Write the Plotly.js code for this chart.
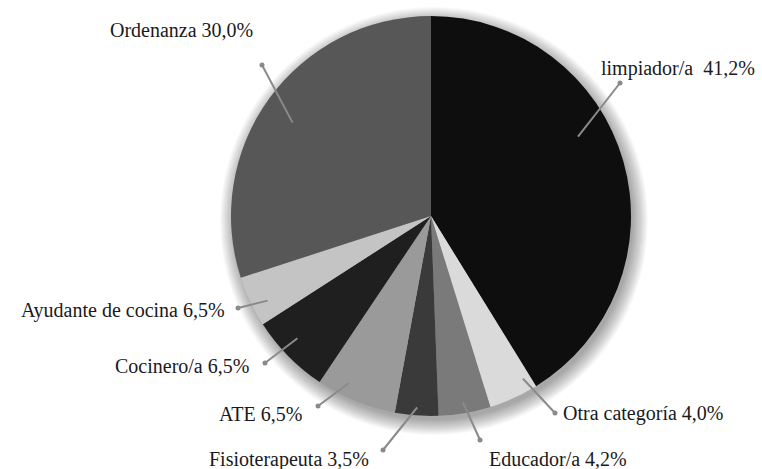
<!DOCTYPE html>
<html>
<head>
<meta charset="utf-8">
<script src="https://cdn.plot.ly/plotly-3.0.1.min.js"></script>
<style>html,body{margin:0;padding:0;background:#fff;}#chart{width:762px;height:469px;}</style>
</head>
<body>
<div id="chart"></div>
<script>
// Data
const categories = ["limpiador/a", "Otra categoría", "Educador/a", "Fisioterapeuta", "ATE", "Cocinero/a", "Ayudante de cocina", "Ordenanza"];
const sliceValues = [41.2, 4.0, 4.2, 3.5, 6.5, 6.5, 4.1, 30.0];   // slice sizes as drawn
const printedPct = ["41,2%", "4,0%", "4,2%", "3,5%", "6,5%", "6,5%", "6,5%", "30,0%"]; // labels as printed
const labelSep = ["  ", " ", " ", " ", " ", " ", " ", " "];
const sliceColors = ["#0e0e0e", "#dadada", "#7a7a7a", "#3a3a3a", "#9a9a9a", "#1f1f1f", "#c4c4c4", "#575757"];

// Layout helpers (pixel -> paper)
const W = 762, H = 469;
const px = x => x / W;
const py = y => 1 - y / H;
const CX = 431, CY = 216, R = 200;

// label layout: text anchor, dot position, leader inner end tweaks
const textPos = [
  {x: 599, y: 68, a: "left"},
  {x: 561, y: 413, a: "left"},
  {x: 487, y: 459, a: "left"},
  {x: 371, y: 459, a: "right"},
  {x: 304, y: 414, a: "right"},
  {x: 251, y: 366, a: "right"},
  {x: 227, y: 310, a: "right"},
  {x: 181, y: 30, a: "center"}
];
const dotPos = [[620, 83], [555, 413], [480, 440], [383, 450], [318, 406], [265, 363], [238, 308], [262, 65]];
const innerR = [0.835, 0.935, 0.945, 0.96, 0.93, 0.905, 0.92, 0.835];
const angOff = [-12.5, -5, 0, 0, 4, 2, -2, -2];

const total = sliceValues.reduce((a, b) => a + b, 0);
let cum = 0;
const shapes = [];
// soft shadow
for (let i = 16; i >= 1; i--) {
  const r = R - 2 + i * 1.0;
  const ox = 3, oy = 5;
  shapes.push({type: "circle", xref: "paper", yref: "paper", layer: "below",
    x0: px(CX + ox - r), x1: px(CX + ox + r), y0: py(CY + oy + r), y1: py(CY + oy - r),
    fillcolor: "rgba(0,0,0,0.022)", line: {width: 0}});
}
const annotations = [];
sliceValues.forEach((v, i) => {
  const mid = (cum + v / 2) / total * 360 + angOff[i];
  cum += v;
  const t = mid * Math.PI / 180;
  const ix = CX + Math.sin(t) * R * innerR[i];
  const iy = CY - Math.cos(t) * R * innerR[i];
  const [dx, dy] = dotPos[i];
  shapes.push({type: "line", xref: "paper", yref: "paper", layer: "above",
    x0: px(ix), y0: py(iy), x1: px(dx), y1: py(dy), line: {color: "#8a8a8a", width: 2}});
  shapes.push({type: "circle", xref: "paper", yref: "paper", layer: "above",
    x0: px(dx - 2.5), x1: px(dx + 2.5), y0: py(dy + 2.5), y1: py(dy - 2.5),
    fillcolor: "#8a8a8a", line: {width: 0}});
  annotations.push({xref: "paper", yref: "paper", x: px(textPos[i].x), y: py(textPos[i].y),
    xanchor: textPos[i].a, yanchor: "middle", showarrow: false,
    text: categories[i] + labelSep[i] + printedPct[i],
    font: {family: "Liberation Serif, serif", size: 20, color: "#1a1a1a"}});
});

const trace = {
  type: "pie",
  labels: categories,
  values: sliceValues,
  sort: false,
  direction: "clockwise",
  rotation: 0,
  textinfo: "none",
  hoverinfo: "label+percent",
  marker: {colors: sliceColors, line: {width: 0}},
  domain: {x: [px(CX - R), px(CX + R)], y: [py(CY + R), py(CY - R)]},
  showlegend: false
};

Plotly.newPlot("chart", [trace], {
  width: W, height: H,
  margin: {l: 0, r: 0, t: 0, b: 0},
  paper_bgcolor: "#fff",
  showlegend: false,
  shapes: shapes,
  annotations: annotations
}, {displayModeBar: false, staticPlot: true});
</script>
</body>
</html>
